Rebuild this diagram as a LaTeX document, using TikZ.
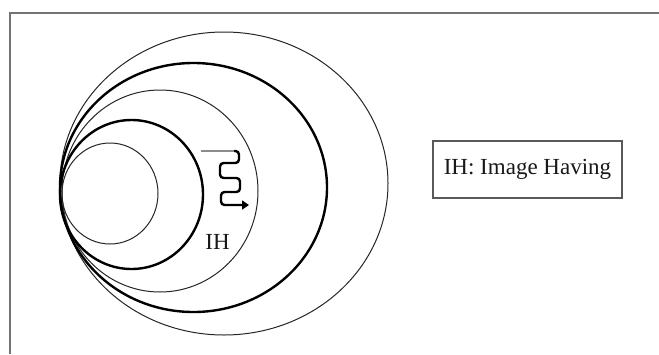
\documentclass[tikz,border=0pt]{standalone}
\usepackage{fontspec}
\setmainfont{Liberation Serif}
\usetikzlibrary{arrows.meta}
\begin{document}
\begin{tikzpicture}[x=1pt,y=-1pt,
  thinring/.style={draw=black!85, line width=1pt},
  thickring/.style={draw=black, line width=2.4pt},
  frameline/.style={draw=black!55, line width=1.5pt},
  lbl/.style={font=\fontsize{23}{27}\selectfont, text=black!90, inner sep=0pt}]
\useasboundingbox (0,0) rectangle (659,354);
\fill[white] (0,0) rectangle (659,354);
% outer frame (left and top only visible)
\draw[frameline] (10,354) -- (10,13) -- (659,13);
% nested rings
\draw[thinring]  (224,183.5) ellipse (164 and 151.5);
\draw[thickring] (193.5,187.5) ellipse (133.5 and 124.5);
\draw[thinring]  (160,191) ellipse (98 and 101);
\draw[thickring] (131.5,194.5) ellipse (71.5 and 74.5);
\draw[thinring]  (110,193.5) ellipse (48 and 50.5);
% serpentine arrow
\coordinate (s0) at (201,151);
\coordinate (s1) at (234,151);
\draw[draw=black!45, line width=1.6pt] (s0) -- (s1);
\draw[line width=2.4pt, rounded corners=3.5pt, -{Triangle[length=7pt,width=9pt]}]
  (s1) -- (239,151) -- (239,163) -- (220,163) -- (220,178) -- (240,178)
  -- (240,192) -- (221,192) -- (221,205) -- (249,205);
% labels
\node[lbl] (ih) at (217.5,242) {IH};
\node[lbl, draw=black!65, line width=1.4pt, minimum width=189pt, minimum height=57pt,
  inner sep=0pt] (legend) at (527.5,169.5) {IH: Image Having};
\end{tikzpicture}
\end{document}
